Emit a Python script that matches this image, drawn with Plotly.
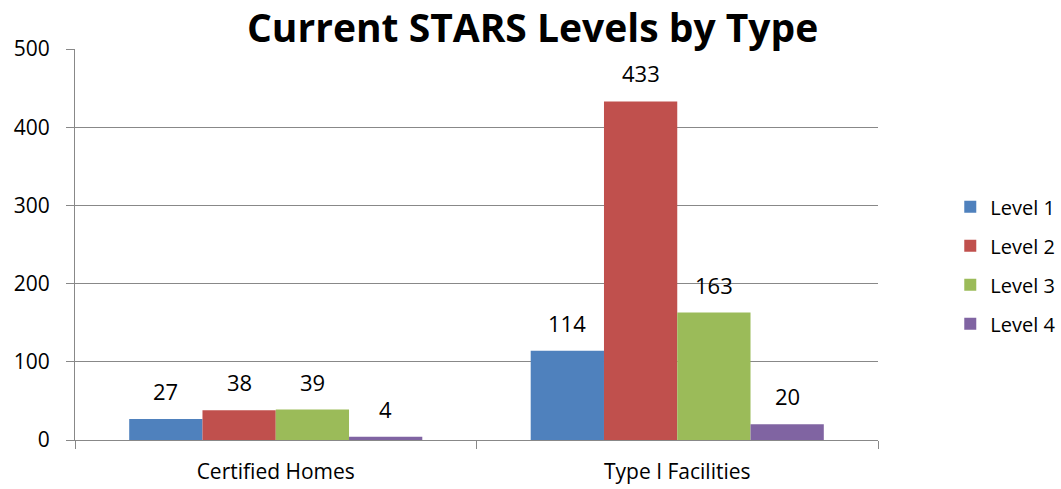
import plotly.graph_objs as go

categories = ['Certified Homes', 'Type I Facilities']
level1 = [27, 114]
level2 = [38, 433]
level3 = [39, 163]
level4 = [4, 20]
names = ['Level 1', 'Level 2', 'Level 3', 'Level 4']
colors = ['#4F81BD', '#C0504D', '#9BBB59', '#8064A2']

plot_w = 1061 - 75 - 183
gap = 0.27
bar_px = plot_w / len(categories) * (1 - gap) / len(names)

fig = go.Figure()
for i, vals in enumerate([level1, level2, level3, level4]):
    fig.add_trace(go.Bar(x=categories, y=vals, name=names[i],
                         marker=dict(color=colors[i], line=dict(width=0)),
                         legendgroup=names[i]))
    # value labels above the bars
    for c, v in zip(categories, vals):
        fig.add_annotation(x=c, y=v, text=str(v), showarrow=False,
                           yanchor='bottom', yshift=11,
                           xshift=(i - 1.5) * bar_px,
                           font=dict(size=22, color='black'))

fig.update_layout(
    width=1061, height=489,
    font=dict(family='Open Sans, sans-serif', size=21, color='black'),
    title=dict(text='<b>Current STARS Levels by Type</b>', x=0.502, xanchor='center',
               y=0.943, yanchor='middle', font=dict(size=39, color='black')),
    margin=dict(l=75, r=183, t=49, b=49, autoexpand=False),
    plot_bgcolor='white', paper_bgcolor='white',
    barmode='group', bargap=gap, bargroupgap=0,
    legend=dict(x=1.09, y=0.447, yanchor='middle', xanchor='left',
                font=dict(size=20), tracegroupgap=10),
    showlegend=True,
)
fig.update_yaxes(range=[0, 500], dtick=100, showgrid=True, gridcolor='#888888', gridwidth=1,
                 showline=True, linecolor='#888888', ticks='outside', ticklen=8,
                 tickcolor='#888888', zeroline=False, tickfont=dict(size=21),
                 ticklabelstandoff=12)
fig.update_xaxes(showline=True, linecolor='#888888', ticks='outside', ticklen=8,
                 tickcolor='#888888', tickson='boundaries', tickfont=dict(size=21),
                 ticklabelstandoff=13)

fig.write_html("out.html", config={'displayModeBar': False},
               post_script="document.body.style.margin='0';")
